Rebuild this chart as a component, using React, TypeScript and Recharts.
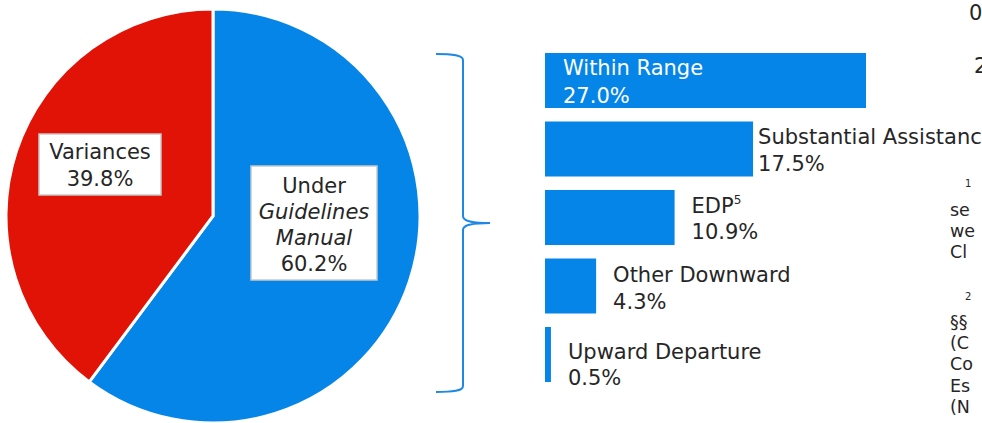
import { PieChart, Pie, Cell, BarChart, Bar, XAxis, YAxis, LabelList } from "recharts"

// pie: sentences under the Guidelines Manual vs. variances
const pieLabels = [["Under", "Guidelines", "Manual"], ["Variances"]]
const pieItalic = [[false, true, true], [false]]
const pieShares = [60.2, 39.8]

// bars: breakdown of the sentences under the Manual
const categories = ["Within Range", "Substantial Assistance", "EDP", "Other Downward", "Upward Departure"]
const superscripts = ["", "", "5", "", ""]
const shares = [27.0, 17.5, 10.9, 4.3, 0.5]

// clipped text of the neighbouring column at the right edge
const edgeText = ["0", "2", "1", "se", "we", "Cl", "2", "§§", "(C", "Co", "Es", "(N"]

const BLUE = "#0585E7"
const RED = "#E01306"
const INK = "#262626"
const FONT = "'DejaVu Sans', sans-serif"

const pieData = pieShares.map((v, i) => ({ name: pieLabels[i].join(" "), value: v }))
const barData = categories.map((c, i) => ({ name: c, sup: superscripts[i], value: shares[i] }))

// label box placement (positions only)
const pieBoxes = [
  { x: 251, y: 166, w: 126, h: 114, cx: 314, base: 193, step: 26 },
  { x: 39, y: 134, w: 122, h: 61, cx: 100, base: 159, step: 27 },
]

const barLabelPos = [
  { inside: true, dx: 18, dy: -5.5, color: "#ffffff", step: 28 },
  { inside: false, dx: 5, dy: -5, color: INK, step: 27 },
  { inside: false, dx: 17, dy: -4.5, color: INK, step: 26 },
  { inside: false, dx: 17, dy: -4.5, color: INK, step: 27 },
  { inside: false, dx: 17, dy: 4, color: INK, step: 26 },
]

const edgePos = [
  { x: 969, y: 20, s: 21 },
  { x: 974, y: 73, s: 21 },
  { x: 965, y: 187, s: 10 },
  { x: 950, y: 216, s: 17.5 },
  { x: 950, y: 237, s: 17.5 },
  { x: 950, y: 258, s: 17.5 },
  { x: 965, y: 300, s: 10 },
  { x: 950, y: 328, s: 17.5 },
  { x: 950, y: 349, s: 17.5 },
  { x: 950, y: 370, s: 17.5 },
  { x: 950, y: 392, s: 17.5 },
  { x: 950, y: 413, s: 17.5 },
]

function PieLabel(props: any) {
  const { index } = props
  const b = pieBoxes[index]
  const lines = [...pieLabels[index], pieShares[index].toFixed(1) + "%"]
  return (
    <g>
      <rect x={b.x} y={b.y} width={b.w} height={b.h} fill="#ffffff" stroke="#c8c8c8" strokeWidth={1.5} />
      {lines.map((t, k) => (
        <text
          key={k}
          x={b.cx}
          y={b.base + k * b.step}
          textAnchor="middle"
          fontFamily={FONT}
          fontSize={21}
          fontStyle={pieItalic[index][k] ? "italic" : "normal"}
          fill={INK}
        >
          {t}
        </text>
      ))}
    </g>
  )
}

function BarLabel(props: any) {
  const { x, y, width, height, index } = props
  const p = barLabelPos[index]
  const d = barData[index]
  const tx = p.inside ? x + p.dx : x + width + p.dx
  const base = y + height / 2 + p.dy
  return (
    <g fontFamily={FONT} fontSize={21} fill={p.color}>
      <text x={tx} y={base}>
        {d.name}
        {d.sup && (
          <tspan fontSize={12} dy={-9}>
            {d.sup}
          </tspan>
        )}
      </text>
      <text x={tx} y={base + p.step}>
        {d.value.toFixed(1)}%
      </text>
    </g>
  )
}

export default function App() {
  return (
    <div style={{ position: "fixed", left: 0, top: 0, width: 982, height: 423, overflow: "hidden", background: "#fff" }}>
      <div style={{ position: "absolute", left: 0, top: 0 }}>
        <PieChart width={430} height={423} margin={{ top: 0, right: 0, bottom: 0, left: 0 }}>
          <Pie
            data={pieData}
            dataKey="value"
            cx={213}
            cy={216}
            outerRadius={207}
            startAngle={90}
            endAngle={-270}
            stroke="#ffffff"
            strokeWidth={3}
            label={PieLabel}
            labelLine={false}
            isAnimationActive={false}
          >
            <Cell fill={BLUE} />
            <Cell fill={RED} />
          </Pie>
        </PieChart>
      </div>

      <svg style={{ position: "absolute", left: 0, top: 0 }} width={982} height={423}>
        <path
          d="M436 54 C453 54 463 55 463 60 L463 216 C463 220 468 223 490 223 C468 223 463 226 463 230 L463 386 C463 391 453 392 436 392"
          fill="none"
          stroke="#1E88E5"
          strokeWidth={2}
        />
        {edgeText.map((t, i) => (
          <text key={i} x={edgePos[i].x} y={edgePos[i].y} fontSize={edgePos[i].s} fontFamily={FONT} fill={INK}>
            {t}
          </text>
        ))}
      </svg>

      <div style={{ position: "absolute", left: 545, top: 0 }}>
        <BarChart
          width={437}
          height={423}
          data={barData}
          layout="vertical"
          margin={{ top: 46, right: 116, bottom: 34.5, left: 0 }}
        >
          <XAxis type="number" domain={[0, 27]} hide />
          <YAxis type="category" dataKey="name" hide />
          <Bar dataKey="value" fill={BLUE} barSize={55} isAnimationActive={false}>
            <LabelList dataKey="value" content={BarLabel} />
          </Bar>
        </BarChart>
      </div>
    </div>
  )
}
